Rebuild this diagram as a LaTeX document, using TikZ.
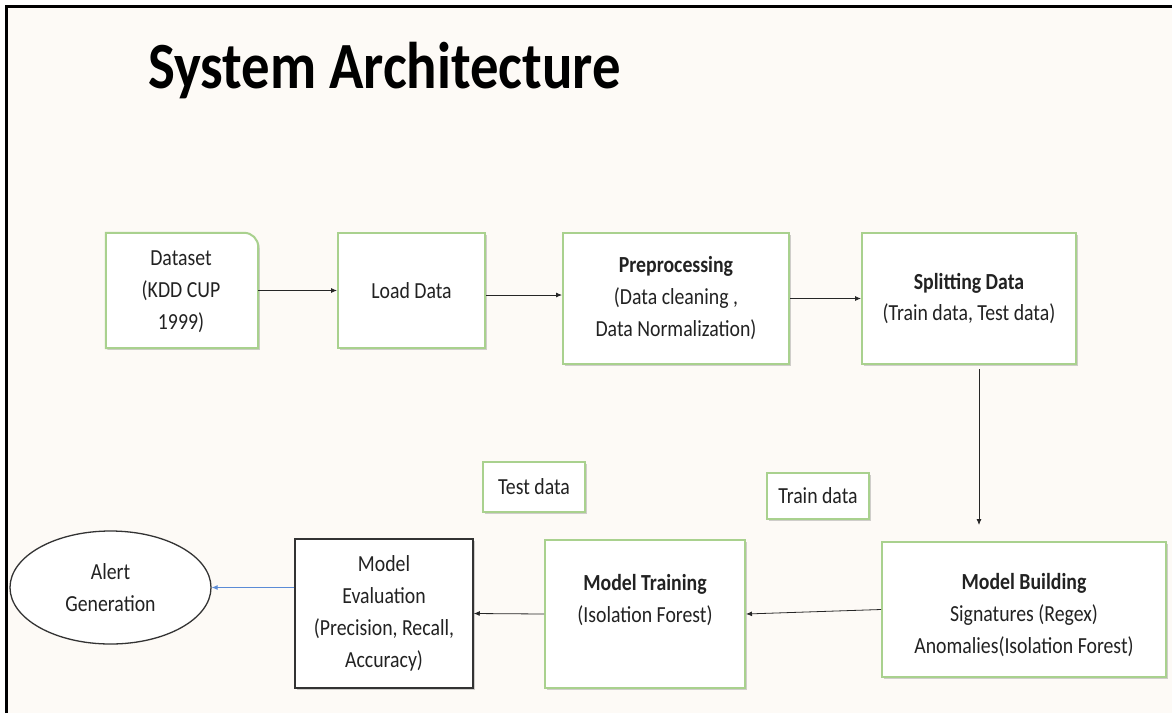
\documentclass[tikz,border=0pt]{standalone}
\usepackage{fontspec}
\setmainfont{Carlito}[FakeStretch=0.86]
\usetikzlibrary{arrows.meta,shapes.geometric,shadows}
\definecolor{bgc}{HTML}{FDFAF6}
\definecolor{boxgreen}{HTML}{A9D18E}
\definecolor{edgeblue}{HTML}{5B8BD6}
\definecolor{txtc}{HTML}{222222}
\begin{document}
\begin{tikzpicture}[x=1pt,y=-1pt,
  shd/.style={drop shadow={shadow xshift=1.6pt,shadow yshift=-1.6pt,opacity=0.3,fill=black!60}},
  gbox/.style={draw=boxgreen,line width=2pt,fill=white,shd,inner sep=0pt,align=center,text=txtc,font=\fontsize{23}{32}\selectfont},
  kbox/.style={draw=black!80,line width=1.5pt,fill=white,shd,inner sep=0pt,align=center,text=txtc,font=\fontsize{23}{32}\selectfont},
  txt/.style={align=center,text=txtc,inner sep=0pt,font=\fontsize{23}{32}\selectfont},
  arr/.style={-{Latex[length=6pt,width=5pt]},line width=0.8pt,draw=black!85}]
\useasboundingbox (0,0) rectangle (1172,713);
\fill[white] (0,0) rectangle (1172,713);
\fill[bgc] (6,6) rectangle (1172,713);
\draw[line width=3pt] (6,713) -- (6,6) -- (1172,6);

\node[anchor=base west,text=black,inner sep=0pt,font=\fontsize{66}{70}\selectfont\bfseries] (title) at (148,88) {System Architecture};

% Dataset box with one rounded corner
\node[minimum width=152pt,minimum height=115pt,inner sep=0pt] (ds) at (182,290.5) {};
\draw[draw=boxgreen,line width=2pt,fill=white,shd] (ds.south west) -- (ds.north west) -- ([xshift=-14pt]ds.north east) arc[start angle=90,end angle=0,radius=14pt] -- (ds.south east) -- cycle;
\node[txt] (dst) at (181,292) {Dataset\\(KDD CUP\\1999)};

\node[gbox,minimum width=147pt,minimum height=115pt] (ld) at (411.5,290.5) {Load Data};
\node[gbox,minimum width=226pt,minimum height=131pt] (pp) at (676,298.5) {\textbf{Preprocessing}\\(Data cleaning ,\\Data Normalization)};
\node[gbox,minimum width=214pt,minimum height=131pt] (sp) at (969,298.5) {\textbf{Splitting Data}\\(Train data, Test data)};

\node[gbox,minimum width=102pt,minimum height=50pt] (td) at (534,487) {Test data};
\node[gbox,minimum width=102pt,minimum height=46pt] (tr) at (818,496) {Train data};

\node[gbox,minimum width=284pt,minimum height=135pt] (mb) at (1024,609.5) {};
\node[txt] (mbt) at (1024,615) {\textbf{Model Building}\\Signatures (Regex)\\Anomalies(Isolation Forest)};

\node[gbox,minimum width=200pt,minimum height=148pt] (mt) at (645,614) {};
\node[txt] (mtt) at (645,600) {\textbf{Model Training}\\(Isolation Forest)};

\node[kbox,minimum width=178pt,minimum height=149pt] (me) at (384,613.5) {Model\\Evaluation\\(Precision, Recall,\\Accuracy)};

\node[ellipse,draw=black!80,line width=1.3pt,fill=white,minimum width=201pt,minimum height=113pt,inner sep=0pt,align=center,text=txtc,font=\fontsize{23}{32}\selectfont] (al) at (110.5,587.5) {Alert\\Generation};

\draw[arr] (ds.east) -- (ld.west);
\draw[arr] ([yshift=-4.5pt]ld.east) -- ([yshift=3.5pt]pp.west);
\draw[arr] (pp.east) -- (sp.west);
\draw[arr,shorten <=4pt,shorten >=16pt] ([xshift=10pt]sp.south) -- ([xshift=10pt]sp.south |- mb.north);
\draw[arr] (mb.west) -- (mt.east);
\draw[arr] (mt.west) -- (me.east);
\draw[-{Latex[length=6pt,width=5pt]},line width=0.9pt,draw=edgeblue] (me.west |- al.east) -- (al.east);
\end{tikzpicture}
\end{document}
